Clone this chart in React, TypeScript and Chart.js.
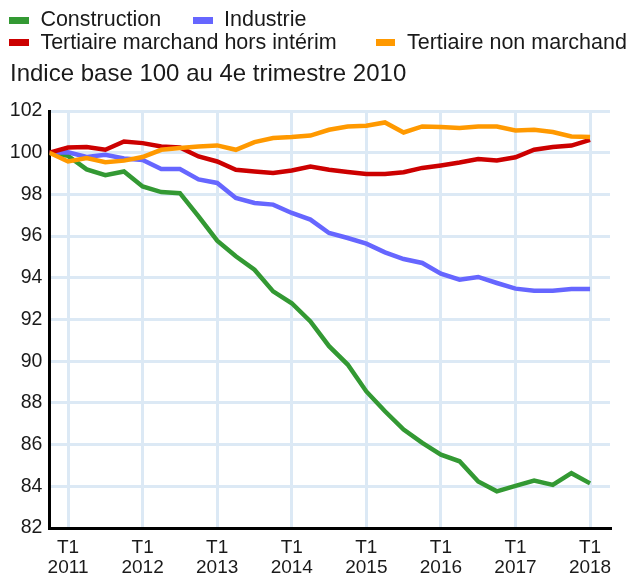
import React, { useEffect, useRef } from "react";
import { Chart, registerables } from "chart.js";
Chart.register(...registerables);

const quarters = [
  "T4 2010",
  "T1 2011", "T2 2011", "T3 2011", "T4 2011",
  "T1 2012", "T2 2012", "T3 2012", "T4 2012",
  "T1 2013", "T2 2013", "T3 2013", "T4 2013",
  "T1 2014", "T2 2014", "T3 2014", "T4 2014",
  "T1 2015", "T2 2015", "T3 2015", "T4 2015",
  "T1 2016", "T2 2016", "T3 2016", "T4 2016",
  "T1 2017", "T2 2017", "T3 2017", "T4 2017",
  "T1 2018",
];

const construction = [
  100, 99.85, 99.2, 98.92, 99.1, 98.38, 98.11, 98.06, 96.95, 95.78,
  95.03, 94.39, 93.35, 92.78, 91.91, 90.72, 89.84, 88.55, 87.6, 86.72,
  86.08, 85.52, 85.2, 84.23, 83.76, 84.02, 84.27, 84.07, 84.63, 84.14,
];
const industrie = [
  100, 100.02, 99.8, 99.9, 99.72, 99.65, 99.22, 99.22, 98.72, 98.55,
  97.83, 97.59, 97.51, 97.11, 96.79, 96.15, 95.91, 95.64, 95.22, 94.9,
  94.71, 94.2, 93.91, 94.04, 93.75, 93.48, 93.38, 93.38, 93.46, 93.46,
];
const tertiaireMarchand = [
  100, 100.25, 100.27, 100.14, 100.54, 100.46, 100.3, 100.25, 99.82, 99.58,
  99.18, 99.1, 99.03, 99.15, 99.34, 99.18, 99.07, 98.98, 98.98, 99.06,
  99.27, 99.39, 99.53, 99.7, 99.63, 99.78, 100.14, 100.27, 100.34, 100.62,
];
const tertiaireNonMarchand = [
  100, 99.58, 99.74, 99.54, 99.62, 99.79, 100.14, 100.22, 100.3, 100.35,
  100.14, 100.51, 100.7, 100.75, 100.82, 101.1, 101.26, 101.29, 101.45, 100.97,
  101.26, 101.23, 101.18, 101.26, 101.26, 101.07, 101.1, 100.99, 100.78, 100.75,
];

const seriesNames = [
  "Construction",
  "Industrie",
  "Tertiaire marchand hors intérim",
  "Tertiaire non marchand",
];
const seriesColors = ["#339933", "#6666ff", "#cc0000", "#ff9900"];
const tickQuarter = "T1";
const tickYears = ["2011", "2012", "2013", "2014", "2015", "2016", "2017", "2018"];
const yTicks = [82, 84, 86, 88, 90, 92, 94, 96, 98, 100, 102];
const titleText = "Indice base 100 au 4e trimestre 2010";

const FONT = "'Liberation Sans', Arial, Helvetica, sans-serif";
const TEXT = "#1a1a1a";
const GRID = "#dce9f5";

export default function App() {
  const ref = useRef<HTMLCanvasElement | null>(null);

  useEffect(() => {
    document.body.style.margin = "0";
    document.body.style.overflow = "hidden";
    const values = [construction, industrie, tertiaireMarchand, tertiaireNonMarchand];
    const chart = new Chart(ref.current as HTMLCanvasElement, {
      type: "line",
      data: {
        datasets: values.map((arr, k) => ({
          label: seriesNames[k],
          data: arr.map((v, i) => ({ x: quarters.indexOf(quarters[i]), y: v })),
          borderColor: seriesColors[k],
          backgroundColor: seriesColors[k],
          borderWidth: 4.5,
          pointRadius: 0,
          tension: 0,
          fill: false,
          order: 3 - k,
        })),
      },
      options: {
        animation: false,
        responsive: false,
        maintainAspectRatio: false,
        layout: { padding: { top: 111, right: 21, bottom: 0, left: 0 } },
        plugins: { legend: { display: false }, tooltip: { enabled: false } },
        scales: {
          x: {
            type: "linear",
            min: 0,
            max: 30.07,
            afterBuildTicks: (s: any) => {
              s.ticks = tickYears.map((_, k) => ({ value: quarters.indexOf(tickQuarter + " " + tickYears[k]) }));
            },
            afterFit: (s: any) => {
              s.height = 49;
            },
            ticks: {
              autoSkip: false,
              maxRotation: 0,
              padding: 10,
              color: TEXT,
              font: { family: FONT, size: 19, lineHeight: 1.05 },
              callback: (v: any) => {
                const lab = quarters[Number(v)] || "";
                return lab.split(" ");
              },
            },
            grid: { color: GRID, lineWidth: 3, drawTicks: false },
            border: { color: "#000", width: 3 },
          },
          y: {
            min: 82,
            max: 102,
            afterBuildTicks: (s: any) => {
              s.ticks = yTicks.map((v) => ({ value: v }));
            },
            afterFit: (s: any) => {
              s.width = 49.4;
            },
            ticks: {
              padding: 7,
              color: TEXT,
              font: { family: FONT, size: 19.5 },
            },
            grid: { color: GRID, lineWidth: 3, drawTicks: false },
            border: { color: "#000", width: 3 },
          },
        },
      },
    });
    return () => chart.destroy();
  }, []);

  const legendFs = 21.5;
  const txt = (s: string, left: number, baseline: number, fs: number) => (
    <div
      style={{
        position: "absolute",
        left,
        top: baseline - 0.8465 * fs,
        fontFamily: FONT,
        fontSize: fs,
        lineHeight: fs + "px",
        color: TEXT,
        whiteSpace: "nowrap",
      }}
    >
      {s}
    </div>
  );
  const box = (color: string, left: number, top: number) => (
    <div style={{ position: "absolute", left, top, width: 19.5, height: 7, background: color }} />
  );

  return (
    <div style={{ position: "relative", width: 631, height: 577, background: "#fff", overflow: "hidden" }}>
      <canvas ref={ref} width={631} height={577} style={{ position: "absolute", left: 0, top: 0, display: "block" }} />
      {box(seriesColors[0], 9, 17.3)}
      {txt(seriesNames[0], 40.4, 27.3, legendFs)}
      {box(seriesColors[1], 193, 17.3)}
      {txt(seriesNames[1], 224, 27.3, legendFs)}
      {box(seriesColors[2], 9, 39)}
      {txt(seriesNames[2], 40.4, 50, legendFs)}
      {box(seriesColors[3], 375.5, 39)}
      {txt(seriesNames[3], 407, 50, legendFs)}
      {txt(titleText, 10, 81, 24)}
    </div>
  );
}
